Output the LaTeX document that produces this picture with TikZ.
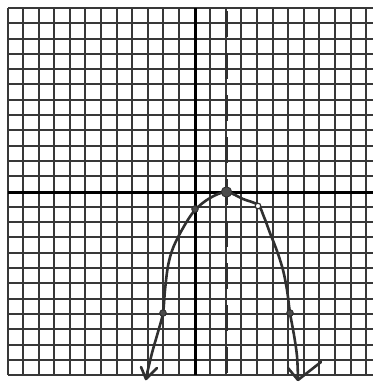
\documentclass[tikz,border=0pt]{standalone}
\usetikzlibrary{arrows.meta}
\definecolor{gridgray}{HTML}{383838}
\definecolor{pencil}{HTML}{303030}
\begin{document}
\begin{tikzpicture}[x=1pt,y=-1pt,
  gridline/.style={draw=gridgray,line width=2pt},
  axisline/.style={draw=black,line width=3pt},
  symline/.style={draw=pencil,line width=2.4pt,dash pattern=on 26pt off 16pt},
  curveline/.style={draw=pencil,line width=2.6pt,line cap=round,line join=round},
  ptdot/.style={fill=gray!60!black,draw=pencil,line width=0.9pt}]
\fill[white] (0,0) rectangle (373,383);
\useasboundingbox (0,0) rectangle (373,383);
\begin{scope}
\clip (0,0) rectangle (373,383);
\foreach \gx in {8,23,39,54,70,85,101,117,132,148,163,179,195,210,226,241,257,273,288,304,319,335,351,366}
  \draw[gridline] (\gx,8) -- (\gx,375);
\foreach \gy in {8,23,39,54,69,84,100,115,130,146,161,176,192,207,222,237,253,268,283,299,314,329,345,360,375}
  \draw[gridline] (8,\gy) -- (373,\gy);
\end{scope}
% axes
\draw[axisline] (195,8) -- (195,375);
\draw[axisline] (8,192) -- (373,192);
% axis of symmetry
\draw[symline] (226.5,11) -- (226.5,382);
% parabola
\draw[curveline] plot[smooth,tension=0.55] coordinates {(146,378) (152,353) (158,332) (163,313) (165,290) (168,266) (173,248) (183,228) (195,210) (210,198) (226.5,192) (243,199) (258,205) (264,217) (270,233) (277,251) (283,270) (287,290) (290,313) (294,335) (297,356) (298,378)};
\draw[curveline] (141,367) -- (146,379) -- (157,368);
\draw[curveline] (288,368) -- (298,380) -- (321,362);
% points
\coordinate (v) at (226.5,192);
\filldraw[ptdot] (v) circle (5.2pt);
\filldraw[ptdot] (195,209) circle (3.3pt);
\filldraw[draw=pencil,fill=white,line width=1.2pt] (258,206) circle (2.8pt);
\filldraw[ptdot] (163,313) circle (3.3pt);
\filldraw[ptdot] (290,313) circle (3.3pt);
\end{tikzpicture}
\end{document}
